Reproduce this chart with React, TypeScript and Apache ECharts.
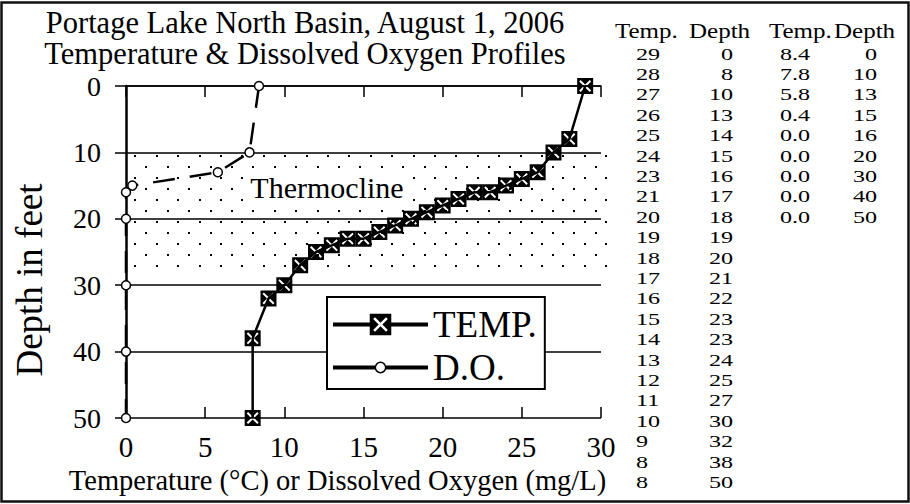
import React, { useEffect, useRef } from 'react';
import * as echarts from 'echarts';

const SERIF = "'Liberation Serif', 'Times New Roman', Times, serif";

// ---- plotted profiles ----
const TEMP_C = [29, 28, 27, 26, 25, 24, 23, 22, 21, 20, 19, 18, 17, 16, 15, 14, 13, 12, 11, 10, 9, 8, 8];
const TEMP_DEPTH = [0, 8, 10, 13, 14, 15, 16, 16, 17, 18, 19, 20, 21, 22, 23, 23, 24, 25, 27, 30, 32, 38, 50];

const DO_MGL = [8.4, 7.8, 5.8, 0.4, 0.0, 0.0, 0.0, 0.0, 0.0];
const DO_DEPTH = [0, 10, 13, 15, 16, 20, 30, 40, 50];

// ---- data table printed at the right ----
const TABLE_HEADERS = ['Temp.', 'Depth', 'Temp.', 'Depth'];
const TABLE_TEMP = ['29', '28', '27', '26', '25', '24', '23', '21', '20', '19', '18', '17', '16', '15', '14', '13', '12', '11', '10', '9', '8', '8'];
const TABLE_TEMP_DEPTH = ['0', '8', '10', '13', '14', '15', '16', '17', '18', '19', '20', '21', '22', '23', '23', '24', '25', '27', '30', '32', '38', '50'];

// thermocline band: [xFrom, depthFrom, xTo, depthTo]
const THERMOCLINE = [0, 10, 30.6, 27.7];

const X_MIN = 0, X_MAX = 30, X_STEP = 5;
const Y_MIN = 0, Y_MAX = 50, Y_STEP = 10;

function xHole(cx: number, cy: number, e: number, a: number): string {
  const pts = [
    [-a, 0], [-e, e - a], [-e + a, e], [0, a], [e - a, e], [e, e - a],
    [a, 0], [e, -e + a], [e - a, -e], [0, -a], [-e + a, -e], [-e, -e + a],
  ];
  return 'M' + pts.map((p) => (cx + p[0]).toFixed(2) + ' ' + (cy + p[1]).toFixed(2)).join('L') + 'Z';
}

const TEMP_SYMBOL = 'path://M0 0H16V16H0Z' + xHole(8, 8, 6, 1.4);
const TEMP_LEGEND_ICON = 'path://M0 9H38.5V13H0Z M37.5 0H59.5V22H37.5Z M58.5 9H97V13H58.5Z ' + xHole(48.5, 11, 7.5, 1.9);
const DO_LEGEND_ICON =
  'path://M0 4H43.5V8H0Z M53.5 4H97V8H53.5Z M42.5 6A6 6 0 1 1 54.5 6A6 6 0 1 1 42.5 6Z M44 6A4.5 4.5 0 1 0 53 6A4.5 4.5 0 1 0 44 6Z';

function makeDotPattern() {
  const c = document.createElement('canvas');
  c.width = 107;
  c.height = 22;
  const ctx = c.getContext('2d')!;
  ctx.fillStyle = '#000';
  for (let k = 0; k < 5; k++) {
    const xa = Math.round(7 + k * 21.4) - 1;
    const xb = Math.round(18 + k * 21.4) - 1;
    ctx.fillRect(xa % 107, 1, 2, 2);
    ctx.fillRect(xb % 107, 12, 2, 2);
  }
  return { image: c, repeat: 'repeat', imageWidth: 107, imageHeight: 22 };
}

function tableText(text: string, x: number, y: number, align: string, size: number, sx: number) {
  return {
    type: 'text', x, y, scaleX: sx, silent: true, z: 50,
    style: { text, fontSize: size, fontFamily: SERIF, fill: '#000', align, verticalAlign: 'middle' },
  };
}

function buildOption() {
  const pattern = makeDotPattern();

  const tableGraphics: any[] = [];
  const headerX = [615, 689, 769, 834];
  TABLE_HEADERS.forEach((h, i) => tableGraphics.push(tableText(h, headerX[i], 31, 'left', 20, 1.25)));
  const rowY = (i: number) => 54 + i * 20.4;
  TABLE_TEMP.forEach((t, i) => {
    tableGraphics.push(tableText(t, 636, rowY(i), 'left', 17, 1.42));
    tableGraphics.push(tableText(TABLE_TEMP_DEPTH[i], 733, rowY(i), 'right', 17, 1.42));
  });
  DO_MGL.forEach((v, i) => {
    tableGraphics.push(tableText(v.toFixed(1), 780, rowY(i), 'left', 17, 1.42));
    tableGraphics.push(tableText(String(DO_DEPTH[i]), 877, rowY(i), 'right', 17, 1.42));
  });

  return {
    animation: false,
    backgroundColor: '#fff',
    title: {
      text: 'Portage Lake North Basin, August 1, 2006\nTemperature & Dissolved Oxygen Profiles',
      left: 305,
      top: 7,
      padding: 0,
      textAlign: 'center',
      textStyle: { fontFamily: SERIF, fontSize: 30.5, fontWeight: 'normal', color: '#000', lineHeight: 31 },
    },
    grid: { left: 126, right: 309, top: 86, bottom: 86, containLabel: false },
    legend: {
      left: 327,
      top: 297,
      orient: 'vertical',
      padding: [9, 8, 3, 6],
      itemGap: 6,
      itemWidth: 95,
      itemHeight: 22,
      selectedMode: false,
      backgroundColor: '#fff',
      borderColor: '#000',
      borderWidth: 2,
      borderRadius: 0,
      itemStyle: { color: '#000', borderWidth: 0 },
      textStyle: { fontFamily: SERIF, fontSize: 37, color: '#000' },
      data: [
        { name: 'TEMP.', icon: TEMP_LEGEND_ICON },
        { name: 'D.O.', icon: DO_LEGEND_ICON },
      ],
    },
    xAxis: [
      {
        type: 'value', min: X_MIN, max: X_MAX, interval: X_STEP, position: 'bottom',
        name: 'Temperature (°C) or Dissolved Oxygen (mg/L)',
        nameLocation: 'middle',
        nameGap: 39,
        nameTextStyle: { fontFamily: SERIF, fontSize: 28.5, color: '#000', padding: [0, 52, 0, 0] },
        axisLine: { show: true, lineStyle: { color: '#000', width: 1.5 } },
        axisTick: { show: true, inside: false, length: 11, lineStyle: { color: '#000', width: 1.5 } },
        axisLabel: { fontFamily: SERIF, fontSize: 29, color: '#000', margin: 18, lineHeight: 22 },
        splitLine: { show: false },
      },
      {
        type: 'value', min: X_MIN, max: X_MAX, interval: X_STEP, position: 'bottom',
        axisLine: { show: false },
        axisTick: { show: true, inside: true, length: 11, lineStyle: { color: '#000', width: 1.5 } },
        axisLabel: { show: false },
        splitLine: { show: false },
      },
    ],
    yAxis: {
      type: 'value', min: Y_MIN, max: Y_MAX, interval: Y_STEP, inverse: true,
      name: 'Depth in feet',
      nameLocation: 'middle',
      nameRotate: 90,
      nameGap: 78,
      nameTextStyle: { fontFamily: SERIF, fontSize: 37, color: '#000', padding: [0, 56, 0, 0] },
      axisLine: { show: true, lineStyle: { color: '#000', width: 2.5 } },
      axisTick: { show: true, inside: false, length: 11, lineStyle: { color: '#000', width: 1.5 } },
      axisLabel: { fontFamily: SERIF, fontSize: 28, color: '#000', margin: 25, lineHeight: 20 },
      splitLine: { show: true, lineStyle: { color: '#000', width: 1.5 } },
    },
    graphic: [
      {
        type: 'text', x: 327, y: 187, z: 40, silent: true,
        style: {
          text: 'Thermocline', fontSize: 30, fontFamily: SERIF, fill: '#000',
          align: 'center', verticalAlign: 'middle', backgroundColor: '#fff', padding: [3, 4],
        },
      },
      ...tableGraphics,
      {
        type: 'rect', z: 60, silent: true,
        shape: { x: 1.5, y: 2.5, width: 907, height: 499 },
        style: { fill: 'none', stroke: '#111', lineWidth: 2.5 },
      },
    ],
    series: [
      {
        name: 'Thermocline',
        type: 'custom',
        z: 1,
        silent: true,
        clip: false,
        encode: { x: [0, 2], y: [1, 3] },
        data: [THERMOCLINE],
        renderItem: (params: any, api: any) => {
          const p1 = api.coord([api.value(0), api.value(1)]);
          const p2 = api.coord([api.value(2), api.value(3)]);
          return {
            type: 'rect',
            shape: { x: p1[0], y: p1[1], width: p2[0] - p1[0], height: p2[1] - p1[1] },
            style: { fill: pattern, stroke: null },
          };
        },
      },
      {
        name: 'D.O.',
        type: 'line',
        z: 3,
        clip: false,
        data: DO_MGL.map((v, i) => [v, DO_DEPTH[i]]),
        symbol: 'circle',
        symbolSize: 9,
        itemStyle: { color: '#fff', borderColor: '#000', borderWidth: 1.5 },
        lineStyle: { color: '#000', width: 2.5, type: [22, 15] },
      },
      {
        name: 'TEMP.',
        type: 'line',
        z: 4,
        clip: false,
        data: TEMP_C.map((v, i) => [v, TEMP_DEPTH[i]]),
        symbol: TEMP_SYMBOL,
        symbolSize: 16,
        itemStyle: { color: '#000' },
        lineStyle: { color: '#000', width: 2.5 },
      },
    ],
  };
}

export default function App() {
  const ref = useRef<HTMLDivElement>(null);
  useEffect(() => {
    if (!ref.current) return;
    const chart = echarts.init(ref.current, null, { renderer: 'svg' });
    chart.setOption(buildOption() as any);
    return () => chart.dispose();
  }, []);
  return (
    <div
      ref={ref}
      style={{ position: 'fixed', left: 0, top: 0, width: 910, height: 504, background: '#fff' }}
    />
  );
}
